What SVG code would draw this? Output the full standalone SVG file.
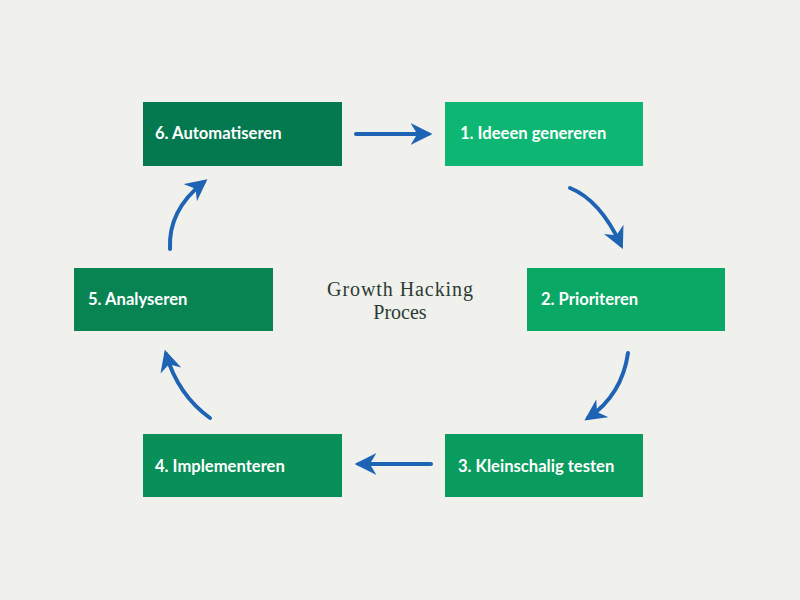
<svg xmlns="http://www.w3.org/2000/svg" width="800" height="600" viewBox="0 0 800 600">
<defs>
<style>
.box text{font-family:"Lato","Open Sans",sans-serif;font-size:16.6px;font-weight:700;fill:#ffffff}
.conn path{fill:none;stroke:#1f63b5;stroke-width:4;stroke-linecap:round}
.title{font-family:"Liberation Serif","DejaVu Serif",serif;font-size:20px;fill:#2b3b33}
</style>
<marker id="ah" viewBox="0 0 10 10" refX="8" refY="5" markerWidth="5.4" markerHeight="5.4" orient="auto" markerUnits="strokeWidth">
<path d="M0,0 L10,5 L0,10 L3,5 Z" fill="#1f63b5"/>
</marker>
</defs>
<rect width="800" height="600" fill="#f0f1ec"/>
<g id="n6" class="box"><rect x="143" y="102" width="199" height="64" fill="#04784f"/><text x="155" y="139">6. Automatiseren</text></g>
<g id="n1" class="box"><rect x="445" y="102" width="198" height="64" fill="#0db773"/><text x="460" y="139">1. Ideeen genereren</text></g>
<g id="n2" class="box"><rect x="527" y="268" width="198" height="63" fill="#0aa865"/><text x="541" y="305">2. Prioriteren</text></g>
<g id="n5" class="box"><rect x="74" y="268" width="199" height="63" fill="#088453"/><text x="88" y="305">5. Analyseren</text></g>
<g id="n4" class="box"><rect x="143" y="434" width="199" height="63" fill="#098f58"/><text x="155" y="472">4. Implementeren</text></g>
<g id="n3" class="box"><rect x="445" y="434" width="198" height="63" fill="#0a9c5e"/><text x="458" y="472">3. Kleinschalig testen</text></g>
<g id="connectors" class="conn">
<path d="M356,134 L428,134" marker-end="url(#ah)"/>
<path d="M570,188 Q600,200 621,245" marker-end="url(#ah)"/>
<path d="M628,353 Q622,395 588,418" marker-end="url(#ah)"/>
<path d="M431,464 L359,464" marker-end="url(#ah)"/>
<path d="M210,418 Q178,395 166,354" marker-end="url(#ah)"/>
<path d="M170,249 Q168,210 204,182" marker-end="url(#ah)"/>
</g>
<text class="title" x="400" y="296" text-anchor="middle" textLength="146" lengthAdjust="spacing">Growth Hacking</text>
<text class="title" x="400" y="319" text-anchor="middle">Proces</text>
</svg>
